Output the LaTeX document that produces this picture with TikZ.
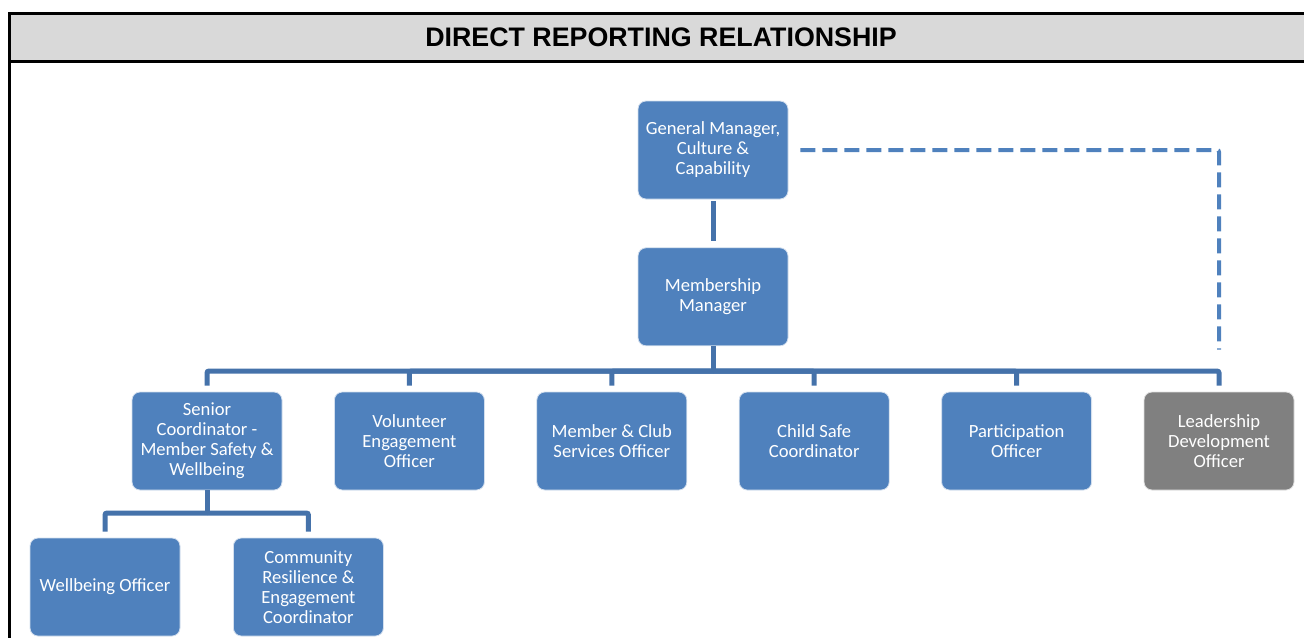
\documentclass[tikz,border=0pt]{standalone}
\usepackage{fontspec}
\setmainfont{Carlito}
\newfontfamily\headfont{Liberation Sans}
\usetikzlibrary{positioning}
\definecolor{boxblue}{RGB}{79,129,189}
\definecolor{linkblue}{RGB}{69,114,170}
\definecolor{boxgrey}{RGB}{128,128,128}
\definecolor{headgrey}{RGB}{217,217,217}
\tikzset{
role/.style={rectangle, rounded corners=4pt, draw=white!75!boxblue, line width=0.4pt, fill=boxblue, text=white, align=center, minimum width=75pt, minimum height=49pt, inner sep=2pt, font=\fontsize{9.3}{10}\selectfont},
vacant_role/.style={role, fill=boxgrey, draw=white!75!boxgrey},
link/.style={draw=linkblue, line width=2.5pt, rounded corners=1pt, shorten >=3pt},
dotted_link/.style={draw=boxblue, line width=2pt, dash pattern=on 7.5pt off 3.5pt, rounded corners=1pt},
frame_line/.style={draw=black, line width=1.5pt},
title/.style={font=\headfont\bfseries\fontsize{13.4}{16}\selectfont}
}

\begin{document}
\begin{tikzpicture}[x=0.5pt, y=-0.5pt]
    \useasboundingbox (0,0) rectangle (1304,637);
    \fill[headgrey] (9,13) rectangle (1310,61);
    \draw[frame_line] (1310,13) -- (9,13) -- (9,640);
    \draw[frame_line] (9,61) -- (1310,61);
    \node[title] (heading) at (661,37) {DIRECT REPORTING RELATIONSHIP};

    \node[role] (gm) at (713,150) {General Manager,\\Culture \&\\Capability};
    \node[role] (mm) [below=24pt of gm] {Membership\\Manager};

    \node[role] (senior) at (207,441) {Senior\\Coordinator -\\Member Safety \&\\Wellbeing};
    \node[role] (volunteer) [right=25.8pt of senior] {Volunteer\\Engagement\\Officer};
    \node[role] (member_club) [right=25.8pt of volunteer] {Member \& Club\\Services Officer};
    \node[role] (child_safe) [right=25.8pt of member_club] {Child Safe\\Coordinator};
    \node[role] (participation) [right=25.8pt of child_safe] {Participation\\Officer};
    \node[vacant_role] (leadership) [right=25.8pt of participation] {Leadership\\Development\\Officer};

    \node[role] (wellbeing) at (105,587) {Wellbeing Officer};
    \node[role] (community) [right=26.3pt of wellbeing] {Community\\Resilience \&\\Engagement\\Coordinator};

    \coordinate (bus) at (713,371);
    \coordinate (sub_bus) at (207,513);
    \coordinate (dash_end) at ([yshift=21pt]leadership.north);

    \draw[link, shorten <=1pt] (gm) -- (mm);
    \draw[link, shorten >=0pt] (mm.south) -- (bus);
    \foreach \n in {senior,volunteer,member_club,child_safe,participation,leadership}
        \draw[link] (bus) -| (\n.north);
    \draw[link, shorten >=0pt] (senior.south) -- (sub_bus);
    \foreach \n in {wellbeing,community}
        \draw[link] (sub_bus) -| (\n.north);
    \draw[dotted_link, shorten <=6pt] (gm.east) -| (dash_end);
\end{tikzpicture}
\end{document}
